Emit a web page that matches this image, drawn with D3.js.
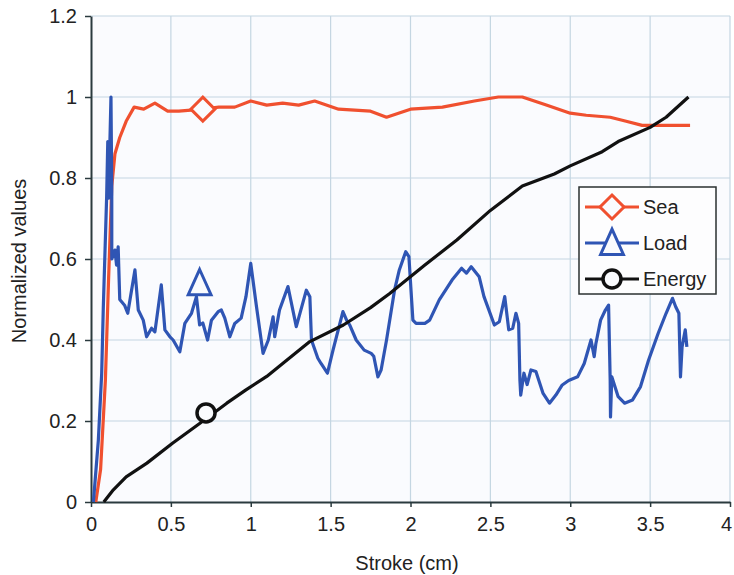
<!DOCTYPE html>
<html>
<head>
<meta charset="utf-8">
<script src="https://cdn.jsdelivr.net/npm/d3@7"></script>
<style>
  body { margin: 0; background: #fff; }
  svg text { font-family: "Liberation Sans", Arial, sans-serif; fill: #222; }
</style>
</head>
<body>
<div id="chart"></div>
<script>
// axis ticks
const xTicks = [0, 0.5, 1, 1.5, 2, 2.5, 3, 3.5, 4];
const yTicks = [0, 0.2, 0.4, 0.6, 0.8, 1, 1.2];
const xTickLabels = ["0", "0.5", "1", "1.5", "2", "2.5", "3", "3.5", "4"];
const yTickLabels = ["0", "0.2", "0.4", "0.6", "0.8", "1", "1.2"];

// series: [stroke, value]
const seaData = [
  [0.03, 0.0], [0.06, 0.08], [0.09, 0.3], [0.11, 0.55], [0.13, 0.78], [0.15, 0.86],
  [0.18, 0.9], [0.22, 0.94], [0.27, 0.975], [0.33, 0.97], [0.4, 0.985], [0.48, 0.965],
  [0.55, 0.965], [0.7, 0.97], [0.8, 0.975], [0.9, 0.975], [1.0, 0.99], [1.1, 0.98],
  [1.2, 0.985], [1.3, 0.98], [1.4, 0.99], [1.55, 0.97], [1.75, 0.965], [1.85, 0.95],
  [2.0, 0.97], [2.2, 0.975], [2.4, 0.99], [2.55, 1.0], [2.7, 1.0], [2.85, 0.98],
  [3.0, 0.96], [3.1, 0.955], [3.25, 0.95], [3.35, 0.94], [3.45, 0.93], [3.55, 0.93],
  [3.65, 0.93], [3.75, 0.93]
];

const loadData = [
  [0.015, 0.0], [0.046, 0.153], [0.067, 0.318], [0.077, 0.48], [0.098, 0.754],
  [0.105, 0.89], [0.11, 0.75], [0.125, 1.0], [0.13, 0.77], [0.13, 0.6], [0.15, 0.622],
  [0.16, 0.585], [0.17, 0.63], [0.18, 0.5], [0.21, 0.486], [0.23, 0.466], [0.275, 0.573],
  [0.296, 0.474], [0.327, 0.449], [0.348, 0.408], [0.379, 0.429], [0.4, 0.42],
  [0.44, 0.536], [0.4625, 0.425], [0.494, 0.408], [0.514, 0.4], [0.556, 0.371],
  [0.5875, 0.441], [0.629, 0.466], [0.66, 0.507], [0.68, 0.437], [0.7, 0.442],
  [0.73, 0.4], [0.754, 0.449], [0.796, 0.47], [0.816, 0.474], [0.8375, 0.454],
  [0.869, 0.408], [0.9, 0.441], [0.94, 0.454], [0.97, 0.507], [1.0, 0.589],
  [1.036, 0.482], [1.077, 0.367], [1.11, 0.4], [1.14, 0.457], [1.15, 0.408],
  [1.18, 0.474], [1.233, 0.532], [1.285, 0.433], [1.348, 0.523], [1.37, 0.507],
  [1.38, 0.4], [1.42, 0.355], [1.44, 0.342], [1.48, 0.318], [1.515, 0.375],
  [1.577, 0.47], [1.6, 0.449], [1.62, 0.437], [1.66, 0.4], [1.71, 0.375],
  [1.754, 0.367], [1.77, 0.36], [1.796, 0.309], [1.816, 0.326], [1.85, 0.4],
  [1.9, 0.523], [1.93, 0.573], [1.97, 0.618], [1.99, 0.606], [2.015, 0.449],
  [2.035, 0.441], [2.09, 0.441], [2.12, 0.449], [2.18, 0.499], [2.26, 0.548],
  [2.32, 0.577], [2.35, 0.565], [2.38, 0.581], [2.43, 0.556], [2.46, 0.507],
  [2.525, 0.437], [2.556, 0.445], [2.59, 0.507], [2.615, 0.425], [2.64, 0.429],
  [2.66, 0.466], [2.677, 0.441], [2.685, 0.3], [2.69, 0.264], [2.71, 0.318],
  [2.73, 0.29], [2.754, 0.326], [2.785, 0.322], [2.83, 0.268], [2.87, 0.244],
  [2.91, 0.264], [2.95, 0.289], [2.99, 0.3], [3.046, 0.309], [3.0875, 0.342],
  [3.13, 0.4], [3.15, 0.359], [3.16, 0.39], [3.19, 0.449], [3.22, 0.474],
  [3.24, 0.486], [3.25, 0.3], [3.252, 0.21], [3.26, 0.309], [3.3, 0.26],
  [3.34, 0.244], [3.39, 0.252], [3.44, 0.285], [3.49, 0.35], [3.55, 0.416],
  [3.6, 0.466], [3.64, 0.503], [3.66, 0.482], [3.68, 0.466], [3.69, 0.309],
  [3.7, 0.383], [3.72, 0.425], [3.73, 0.383]
];

const energyData = [
  [0.08, 0.0], [0.14, 0.03], [0.22, 0.062], [0.35, 0.096], [0.51, 0.145], [0.68, 0.194],
  [0.85, 0.244], [0.97, 0.277], [1.1, 0.31], [1.2, 0.342], [1.37, 0.396], [1.58, 0.437],
  [1.75, 0.48], [1.87, 0.515], [2.09, 0.585], [2.29, 0.647], [2.5, 0.72], [2.7, 0.78],
  [2.9, 0.81], [3.0, 0.83], [3.2, 0.865], [3.3, 0.89], [3.5, 0.925], [3.6, 0.95],
  [3.74, 1.0]
];

// one marker per series, where the figure places it
const seaMarker = [0.7, 0.97];
const loadMarker = [0.68, 0.54];
const energyMarker = [0.72, 0.22];

const seriesNames = ["Sea", "Load", "Energy"];
const seriesColors = ["#f0502f", "#2f55b4", "#111111"];

const width = 734, height = 575;
const margins = {top: 16, right: 4, bottom: 73, left: 91};

const svg = d3.select("#chart").append("svg")
  .attr("width", width)
  .attr("height", height);

const xScale = d3.scaleLinear()
  .domain([0, 4])
  .range([margins.left, width - margins.right]);

const yScale = d3.scaleLinear()
  .domain([0, 1.2])
  .range([height - margins.bottom, margins.top]);

// plot background
svg.append("rect")
  .attr("x", xScale(0))
  .attr("y", yScale(1.2))
  .attr("width", xScale(4) - xScale(0))
  .attr("height", yScale(0) - yScale(1.2))
  .attr("fill", "#fafbfe");

// grid
svg.append("g")
  .selectAll("line")
  .data(xTicks.slice(1))
  .enter().append("line")
  .attr("x1", d => xScale(d)).attr("x2", d => xScale(d))
  .attr("y1", yScale(0)).attr("y2", yScale(1.2))
  .attr("stroke", "#c4d6e2").attr("stroke-width", 1.2);

svg.append("g")
  .selectAll("line")
  .data(yTicks.slice(1))
  .enter().append("line")
  .attr("x1", xScale(0)).attr("x2", xScale(4))
  .attr("y1", d => yScale(d)).attr("y2", d => yScale(d))
  .attr("stroke", "#c4d6e2").attr("stroke-width", 1.2);

// Axes
const xAxis = d3.axisBottom(xScale)
  .tickValues(xTicks)
  .tickFormat((d, i) => xTickLabels[i])
  .tickSizeInner(5).tickSizeOuter(0).tickPadding(10);

const yAxis = d3.axisLeft(yScale)
  .tickValues(yTicks)
  .tickFormat((d, i) => yTickLabels[i])
  .tickSizeInner(6).tickSizeOuter(0).tickPadding(8);

const gx = svg.append("g")
  .attr("transform", `translate(0,${yScale(0)})`)
  .call(xAxis);
const gy = svg.append("g")
  .attr("transform", `translate(${xScale(0)},0)`)
  .call(yAxis);

[gx, gy].forEach(g => {
  g.select(".domain").attr("stroke", "#2a3a3e").attr("stroke-width", 2);
  g.selectAll(".tick line").attr("stroke", "#2a3a3e").attr("stroke-width", 1.5);
  g.selectAll(".tick text")
    .attr("font-size", 20)
    .attr("font-family", "Liberation Sans, Arial, sans-serif")
    .attr("fill", "#222");
});
// last x label sits at the page edge
gx.selectAll(".tick text").filter(d => d === 4).attr("dx", -4);

// Axes labels
svg.append("text")
  .attr("transform", `translate(26, ${(yScale(0) + yScale(1.2)) / 2 + 2}) rotate(-90)`)
  .style("text-anchor", "middle")
  .attr("font-size", 20)
  .text("Normalized values");

svg.append("text")
  .attr("x", 407)
  .attr("y", 570)
  .style("text-anchor", "middle")
  .attr("font-size", 20)
  .text("Stroke (cm)");

// Lines
const line = d3.line()
  .x(d => xScale(d[0]))
  .y(d => yScale(d[1]));

const plot = svg.append("g");
[seaData, loadData, energyData].forEach((data, i) => {
  plot.append("path")
    .datum(data)
    .attr("d", line)
    .attr("fill", "none")
    .attr("stroke", seriesColors[i])
    .attr("stroke-width", 3.2)
    .attr("stroke-linejoin", "round");
});

// Markers
function drawMarker(g, kind, cx, cy, color, s) {
  if (kind === 0) {
    g.append("path")
      .attr("d", `M${cx},${cy - s}L${cx + s},${cy}L${cx},${cy + s}L${cx - s},${cy}Z`)
      .attr("fill", "#fafbfe").attr("stroke", color).attr("stroke-width", 3);
  } else if (kind === 1) {
    g.append("path")
      .attr("d", `M${cx},${cy - s * 1.15}L${cx + s * 0.95},${cy + s * 0.95}L${cx - s * 0.95},${cy + s * 0.95}Z`)
      .attr("fill", "#fafbfe").attr("stroke", color).attr("stroke-width", 3);
  } else {
    g.append("circle")
      .attr("cx", cx).attr("cy", cy).attr("r", s * 0.75)
      .attr("fill", "#fafbfe").attr("stroke", color).attr("stroke-width", 3.5);
  }
}

[seaMarker, loadMarker, energyMarker].forEach((m, i) => {
  drawMarker(plot, i, xScale(m[0]), yScale(m[1]), seriesColors[i], 12);
});

// Legend
const legend = svg.append("g");
legend.append("rect")
  .attr("x", 579).attr("y", 187)
  .attr("width", 137).attr("height", 107)
  .attr("fill", "#fdfdfe")
  .attr("stroke", "#2a3030").attr("stroke-width", 1.5);

seriesNames.forEach((name, i) => {
  const ly = 207 + i * 36;
  legend.append("line")
    .attr("x1", 585).attr("x2", 639)
    .attr("y1", ly).attr("y2", ly)
    .attr("stroke", seriesColors[i]).attr("stroke-width", 3);
  drawMarker(legend, i, 612, ly, seriesColors[i], 12);
  legend.append("text")
    .attr("x", 643).attr("y", ly + 7)
    .attr("font-size", 20)
    .text(name);
});
</script>
</body>
</html>
